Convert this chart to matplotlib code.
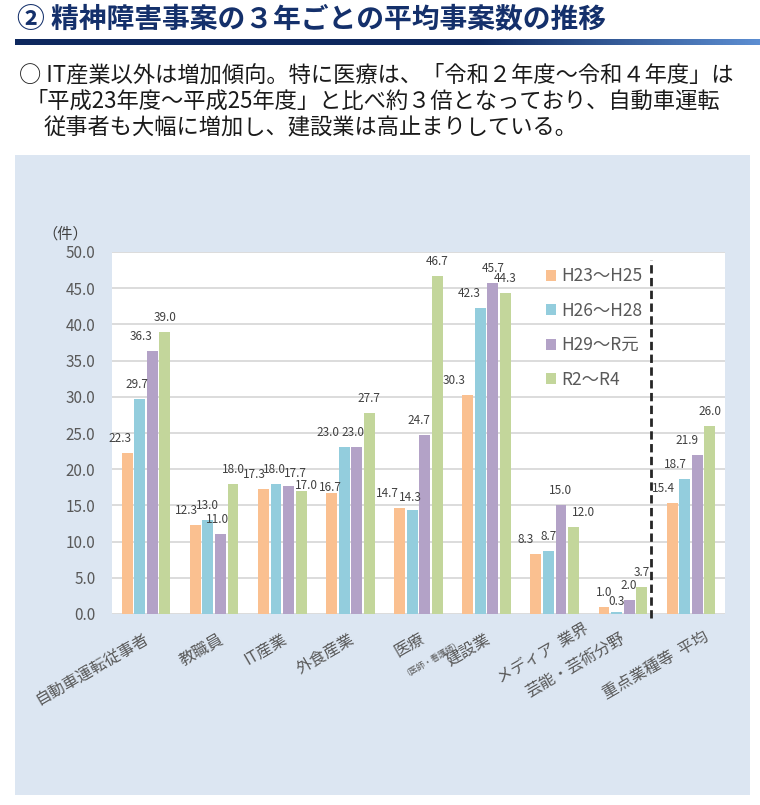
import matplotlib
matplotlib.use("Agg")
import matplotlib.pyplot as plt
import numpy as np
from matplotlib.patches import Rectangle, Patch
from matplotlib.transforms import ScaledTranslation

plt.rcParams["font.family"] = ["Noto Sans CJK JP", "DejaVu Sans"]

# データ（件、3年ごとの平均）
categories = ["自動車運転従事者", "教職員", "IT産業", "外食産業", "医療", "建設業",
              "メディア  業界", "芸能・芸術分野", "重点業種等  平均"]
periods = ["H23～H25", "H26～H28", "H29～R元", "R2～R4"]
h23_h25 = [22.3, 12.3, 17.3, 16.7, 14.7, 30.3, 8.3, 1.0, 15.4]
h26_h28 = [29.7, 13.0, 18.0, 23.0, 14.3, 42.3, 8.7, 0.3, 18.7]
h29_r1 = [36.3, 11.0, 17.7, 23.0, 24.7, 45.7, 15.0, 2.0, 21.9]
r2_r4 = [39.0, 18.0, 17.0, 27.7, 46.7, 44.3, 12.0, 3.7, 26.0]
y_ticks = [0, 5, 10, 15, 20, 25, 30, 35, 40, 45, 50]

title = "② 精神障害事案の３年ごとの平均事案数の推移"
lines = [
    "○ IT産業以外は増加傾向。特に医療は、「令和２年度～令和４年度」は",
    "「平成23年度～平成25年度」と比べ約３倍となっており、自動車運転",
    "従事者も大幅に増加し、建設業は高止まりしている。",
]

colors = ["#FAC090", "#93CDDD", "#B3A2C7", "#C3D69B"]
gray = "#595959"

# 値ラベルの手動ずらし（ピクセル）: (カテゴリ, 系列) -> (dx, dy)
label_nudge = {
    (0, 0): (-7, 0), (0, 1): (-3, 0), (0, 2): (-11, 0),
    (1, 0): (-9, 0), (1, 2): (-3, 0),
    (2, 0): (-9, 0), (2, 1): (-2, 0), (2, 2): (7, -2), (2, 3): (5, -9),
    (3, 0): (-1, -9), (3, 1): (-16, 0), (3, 2): (-4, 0),
    (4, 0): (-12, 0), (4, 1): (-2, -2), (4, 2): (-6, 0),
    (5, 0): (-14, 0), (5, 1): (-11, 0),
    (6, 0): (-10, 0), (6, 3): (10, 0),
    (7, 1): (0, -4),
    (8, 0): (-9, 0), (8, 1): (-9, 0), (8, 2): (-10, 0),
}

W, H = 760, 805
fig = plt.figure(figsize=(W / 100, H / 100), dpi=100)


def fx(px):
    return px / W


def fy(py):
    return 1 - py / H


# 見出し
fig.text(fx(17), fy(20), title, fontsize=20, fontweight="bold",
         color="#14306b", va="center", ha="left")

# 見出し下のバー（右側だけ明るくなるグラデーション）
bar_ax = fig.add_axes([fx(15), fy(45), fx(745), 6 / H])
bar_ax.axis("off")
t = np.linspace(0, 1, 400)
ramp = np.clip((t - 0.62) / 0.38, 0, 1)
c0 = np.array([14, 40, 94]) / 255
c1 = np.array([92, 142, 210]) / 255
grad = c0[None, :] * (1 - ramp[:, None]) + c1[None, :] * ramp[:, None]
bar_ax.imshow(grad[None, :, :], aspect="auto", extent=[0, 1, 0, 1])

# 説明文
fig.text(fx(19), fy(75), lines[0], fontsize=16, color="#1a1a1a", va="center")
fig.text(fx(26), fy(101), lines[1], fontsize=16, color="#1a1a1a", va="center")
fig.text(fx(44), fy(128), lines[2], fontsize=16, color="#1a1a1a", va="center")

# 背景パネル
fig.patches.append(Rectangle((fx(15), fy(795)), fx(735), 640 / H,
                             transform=fig.transFigure, facecolor="#dce6f2",
                             edgecolor="none", zorder=-10))

ax = fig.add_axes([fx(112), fy(614), fx(613), 362 / H])
ax.set_facecolor("white")

series = [h23_h25, h26_h28, h29_r1, r2_r4]
x = np.arange(len(categories))
pitch = 0.184
width = 0.16
for j, (vals, col, lab) in enumerate(zip(series, colors, periods)):
    xs = x + (j - 1.5) * pitch
    ax.bar(xs, vals, width=width, color=col, label=lab, zorder=3)
    for i, (xi, v) in enumerate(zip(xs, vals)):
        dx, dy = label_nudge.get((i, j), (0, 0))
        ax.annotate(f"{v:.1f}", (xi, v), xytext=(dx, 8 + dy),
                    textcoords="offset pixels", ha="center", va="bottom",
                    fontsize=8.5, color="#404040", zorder=5)

ax.set_xlim(-0.5, len(categories) - 0.5)
ax.set_ylim(0, 50)
ax.set_yticks(y_ticks)
ax.set_yticklabels([f"{v:.1f}" for v in y_ticks], fontsize=11, color=gray)
ax.tick_params(axis="y", length=0, pad=12)
ax.grid(axis="y", color="#d9d9d9", linewidth=1.3, zorder=0)
for s in ax.spines.values():
    s.set_visible(False)

ax.set_xticks(x)
ax.set_xticklabels(categories, rotation=30, ha="right", rotation_mode="anchor",
                   fontsize=11.5, color=gray)
ax.tick_params(axis="x", length=0, pad=11.5)
label_dx = [-3, 4, -1, -2, 1, -2, 29, -3, 12]
label_dy = [0, 0, 0, 0, 0, 0, 10, 0, 2]
for lbl, dx, dy in zip(ax.get_xticklabels(), label_dx, label_dy):
    lbl.set_transform(lbl.get_transform()
                      + ScaledTranslation(dx / 100, dy / 100, fig.dpi_scale_trans))

# 医療の補足
ax.text(4, 0, "（医師・看護師）", fontsize=6, color=gray, rotation=30,
        ha="right", va="top", rotation_mode="anchor",
        transform=ax.get_xaxis_transform()
        + ScaledTranslation(0.40, -0.23, fig.dpi_scale_trans))

# 重点業種等平均との区切り
sep_x = len(categories) - 1.5 - 0.09
ax.plot([sep_x, sep_x], [-0.012, 0.977], transform=ax.get_xaxis_transform(),
        color="#262626", linestyle=(0, (3, 1.6)), linewidth=2, clip_on=False,
        zorder=4)

# 単位
fig.text(fx(42), fy(234), "（件）", fontsize=11, color="#404040", va="center")

handles = [Patch(facecolor=c, edgecolor="none") for c in colors]
ax.legend(handles, periods, loc="upper left", bbox_to_anchor=(0.708, 0.958),
          frameon=False, fontsize=12.5, labelcolor=gray, handlelength=0.6,
          handleheight=0.6, handletextpad=0.3, labelspacing=0.95,
          borderpad=0, borderaxespad=0)

fig.savefig("out.png", dpi=100)
